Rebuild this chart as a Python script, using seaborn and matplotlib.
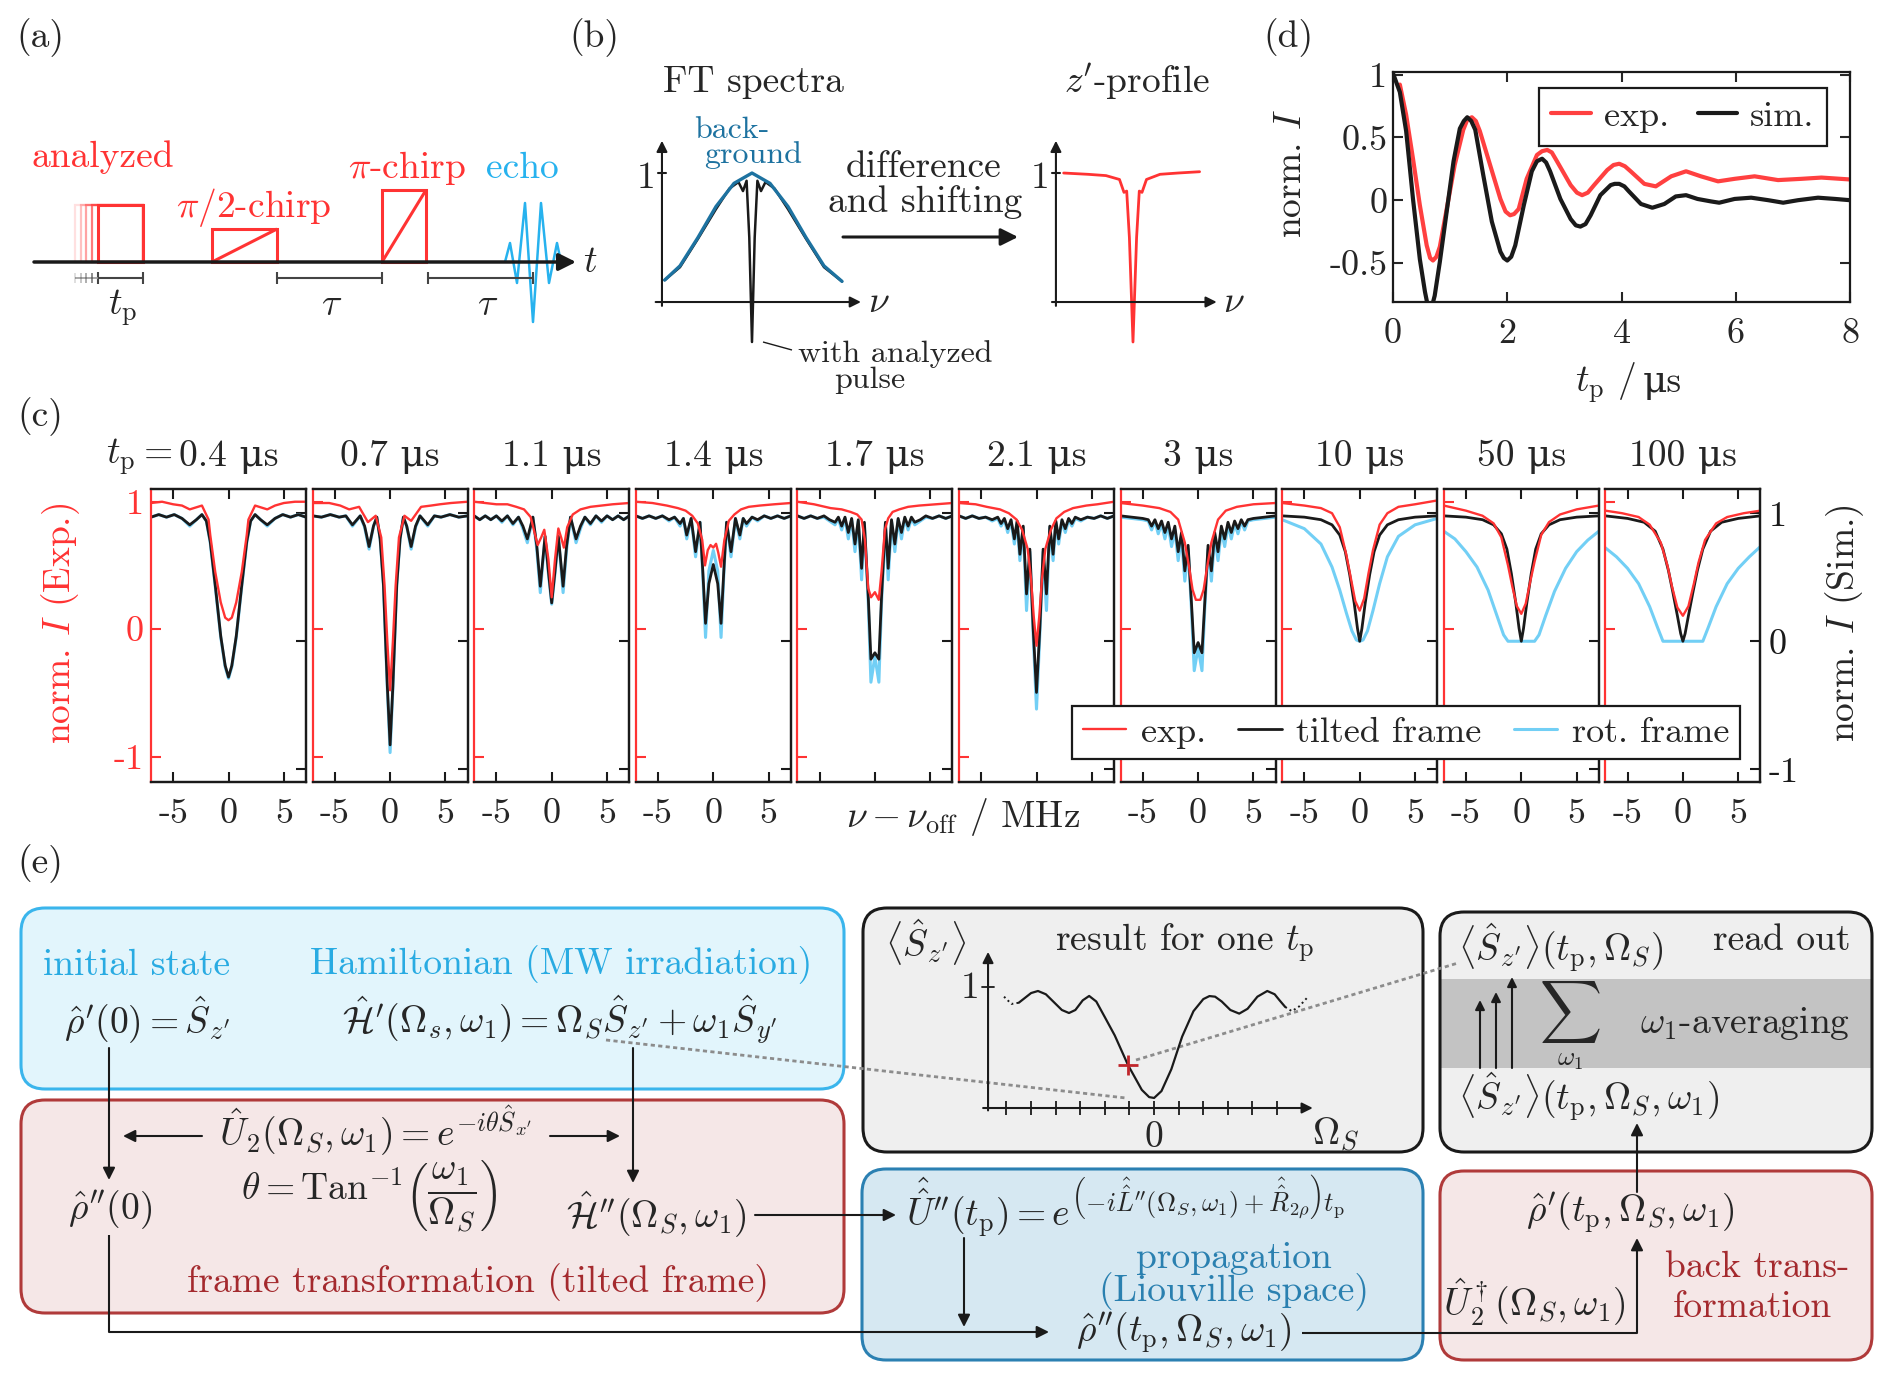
import matplotlib
matplotlib.use("Agg")
import matplotlib.pyplot as plt
import seaborn as sns
from matplotlib.patches import FancyBboxPatch, Rectangle

# ---------------- (d) pulse-length dependence of the echo ----------------
tp_exp = [0.12, 0.23, 0.35, 0.47, 0.59, 0.65, 0.70, 0.76, 0.82, 0.94, 1.08, 1.23, 1.30, 1.38, 1.45, 1.52, 1.70,
          1.88, 1.97, 2.05, 2.12, 2.20, 2.34, 2.52, 2.61, 2.70, 2.78, 2.87, 3.11, 3.22, 3.31, 3.41, 3.52, 3.75,
          3.86, 3.96, 4.06, 4.16, 4.40, 4.60, 4.87, 5.13, 5.39, 5.69, 5.98, 6.33, 6.74, 7.15, 7.50, 8.0]
I_exp = [0.92, 0.68, 0.33, -0.04, -0.36, -0.46, -0.48, -0.45, -0.37, -0.07, 0.28, 0.56, 0.64, 0.66, 0.63, 0.55, 0.28,
         0.01, -0.09, -0.12, -0.11, -0.07, 0.17, 0.36, 0.39, 0.40, 0.38, 0.31, 0.12, 0.06, 0.04, 0.06, 0.12, 0.24,
         0.28, 0.29, 0.27, 0.23, 0.13, 0.11, 0.19, 0.23, 0.19, 0.15, 0.17, 0.19, 0.16, 0.17, 0.18, 0.165]
tp_sim = [0, 0.12, 0.23, 0.35, 0.47, 0.56, 0.60, 0.64, 0.69, 0.73, 0.82, 0.94, 1.06, 1.17, 1.24, 1.30, 1.37, 1.44,
          1.58, 1.73, 1.88, 1.94, 2.0, 2.07, 2.14, 2.29, 2.43, 2.52, 2.61, 2.68, 2.75, 2.93, 3.11, 3.20, 3.28, 3.37,
          3.46, 3.63, 3.81, 3.88, 3.96, 4.05, 4.13, 4.34, 4.54, 4.75, 4.95, 5.13, 5.33, 5.57, 5.71, 5.98, 6.27,
          6.57, 6.83, 7.09, 7.44, 7.74, 8.0]
I_sim = [1.01, 0.86, 0.55, 0.01, -0.47, -0.73, -0.82, -0.86, -0.83, -0.76, -0.49, -0.09, 0.31, 0.57, 0.63, 0.66, 0.63, 0.56,
         0.20, -0.17, -0.41, -0.46, -0.48, -0.45, -0.36, -0.04, 0.23, 0.31, 0.33, 0.30, 0.23, 0.01, -0.15, -0.20, -0.21, -0.19,
         -0.12, 0.04, 0.12, 0.13, 0.13, 0.11, 0.07, -0.03, -0.06, -0.03, 0.03, 0.04, 0.01, -0.01, -0.02, 0.01, 0.02,
         0.0, -0.02, 0.0, 0.02, 0.01, 0.0]

# ---------------- (c) inversion profiles ----------------
tp_titles = ["0.4 μs", "0.7 μs", "1.1 μs", "1.4 μs", "1.7 μs", "2.1 μs", "3 μs", "10 μs", "50 μs", "100 μs"]

nu_exp_1 = [-7, -6, -5, -4.2, -3.5, -2.4, -1.8, -1.65, -1.2, -0.7, -0.3, 0, 0.3, 0.7, 1.2, 1.65, 1.8, 2.4, 3.5, 4.2, 5, 6, 7]
exp_1 = [0.99, 1.0, 0.98, 0.97, 0.94, 0.97, 0.86, 0.74, 0.45, 0.21, 0.09, 0.07, 0.09, 0.21, 0.45, 0.74, 0.86, 0.97, 0.94, 0.97, 0.99, 1.0, 1.0]
nu_sim_1 = [-7, -6.3, -5.6, -4.9, -4.2, -3.5, -2.9, -2.4, -2.0, -1.65, -1.2, -0.7, -0.3, 0, 0.3, 0.7, 1.2, 1.65, 2.0, 2.4, 2.9, 3.5, 4.2, 4.9, 5.6, 6.3, 7]
tilt_1 = [0.97, 0.99, 0.97, 0.99, 0.96, 0.91, 0.95, 0.99, 0.94, 0.78, 0.44, 0.04, -0.19, -0.28, -0.19, 0.04, 0.44, 0.78, 0.94, 0.99, 0.95, 0.91, 0.96, 0.99, 0.97, 0.99, 0.97]
rot_1 = [0.97, 0.99, 0.97, 0.99, 0.96, 0.90, 0.95, 0.99, 0.94, 0.77, 0.43, 0.03, -0.20, -0.29, -0.20, 0.03, 0.43, 0.77, 0.94, 0.99, 0.95, 0.90, 0.96, 0.99, 0.97, 0.99, 0.97]

nu_exp_2 = [-7, -5.5, -4.5, -3.7, -2.8, -2.0, -1.3, -0.8, -0.5, -0.25, 0, 0.25, 0.5, 0.8, 1.3, 1.9, 2.8, 3.7, 4.5, 5.5, 7]
exp_2 = [0.99, 0.99, 0.97, 0.94, 0.96, 0.84, 0.89, 0.72, 0.34, -0.1, -0.48, -0.1, 0.34, 0.72, 0.89, 0.85, 0.96, 0.97, 0.98, 0.99, 1.0]
nu_sim_2 = [-7, -6.2, -5.4, -4.6, -4.0, -3.4, -2.7, -2.3, -1.9, -1.5, -1.2, -0.9, -0.6, -0.25, 0, 0.25, 0.6, 0.9, 1.2, 1.5, 1.9, 2.3, 2.7, 3.4, 4.0, 4.6, 5.4, 6.2, 7]
tilt_2 = [0.98, 0.97, 0.99, 0.97, 0.98, 0.91, 0.98, 0.90, 0.74, 0.90, 0.97, 0.80, 0.44, -0.35, -0.81, -0.35, 0.44, 0.80, 0.97, 0.90, 0.74, 0.90, 0.98, 0.91, 0.98, 0.97, 0.99, 0.97, 0.98]
rot_2 = [0.98, 0.97, 0.99, 0.97, 0.98, 0.90, 0.98, 0.89, 0.72, 0.90, 0.97, 0.80, 0.44, -0.37, -0.87, -0.37, 0.44, 0.80, 0.97, 0.90, 0.72, 0.89, 0.98, 0.90, 0.98, 0.97, 0.99, 0.97, 0.98]

nu_exp_3 = [-7, -6, -5, -4, -3.2, -2.5, -1.9, -1.27, -0.95, -0.67, -0.3, 0, 0.3, 0.6, 0.85, 1.1, 1.4, 1.9, 2.6, 3.5, 4.5, 5.5, 7]
exp_3 = [1.0, 0.99, 0.98, 0.98, 0.96, 0.94, 0.88, 0.66, 0.72, 0.78, 0.55, 0.25, 0.55, 0.79, 0.72, 0.64, 0.80, 0.90, 0.94, 0.96, 0.97, 0.98, 0.99]
nu_sim_3 = [-7, -6.5, -6.0, -5.5, -5.0, -4.5, -4.0, -3.5, -3.0, -2.6, -2.2, -1.7, -1.35, -1.03, -0.6, -0.3, 0,
            0.3, 0.6, 1.03, 1.35, 1.7, 2.2, 2.6, 3.0, 3.5, 4.0, 4.5, 5.0, 5.5, 6.0, 6.5, 7]
tilt_3 = [0.98, 0.95, 0.98, 0.95, 0.98, 0.94, 0.98, 0.92, 0.97, 0.90, 0.80, 0.97, 0.75, 0.43, 0.82, 0.55, 0.30,
          0.55, 0.82, 0.43, 0.75, 0.97, 0.80, 0.90, 0.97, 0.92, 0.98, 0.94, 0.98, 0.95, 0.98, 0.95, 0.98]
rot_3 = [0.98, 0.95, 0.98, 0.95, 0.98, 0.93, 0.98, 0.91, 0.97, 0.88, 0.77, 0.97, 0.72, 0.38, 0.82, 0.53, 0.29,
         0.53, 0.82, 0.38, 0.72, 0.97, 0.77, 0.88, 0.97, 0.91, 0.98, 0.93, 0.98, 0.95, 0.98, 0.95, 0.98]

nu_exp_4 = [-7, -5.5, -4.2, -3.2, -2.5, -1.9, -1.4, -1.0, -0.75, -0.5, -0.25, 0, 0.25, 0.45, 0.7, 1.0, 1.4, 1.9, 2.5, 3.2, 4.2, 5.5, 7]
exp_4 = [1.0, 0.99, 0.97, 0.95, 0.93, 0.89, 0.83, 0.70, 0.50, 0.62, 0.66, 0.64, 0.67, 0.60, 0.49, 0.70, 0.85, 0.90, 0.94, 0.96, 0.97, 0.98, 0.99]
nu_sim_4 = [-7, -6.4, -5.8, -5.2, -4.6, -4.0, -3.5, -3.0, -2.7, -2.4, -2.0, -1.6, -1.2, -0.95, -0.7, -0.4, 0,
            0.4, 0.7, 0.95, 1.2, 1.6, 2.0, 2.4, 2.7, 3.0, 3.5, 4.0, 4.6, 5.2, 5.8, 6.4, 7]
tilt_4 = [0.98, 0.96, 0.98, 0.96, 0.98, 0.95, 0.97, 0.92, 0.96, 0.83, 0.96, 0.70, 0.93, 0.55, 0.14, 0.45, 0.60,
          0.45, 0.14, 0.55, 0.93, 0.70, 0.96, 0.83, 0.96, 0.92, 0.97, 0.95, 0.98, 0.96, 0.98, 0.96, 0.98]
rot_4 = [0.98, 0.96, 0.98, 0.96, 0.98, 0.94, 0.97, 0.90, 0.96, 0.80, 0.96, 0.66, 0.93, 0.52, 0.03, 0.55, 0.71,
         0.55, 0.03, 0.52, 0.93, 0.66, 0.96, 0.80, 0.96, 0.90, 0.97, 0.94, 0.98, 0.96, 0.98, 0.96, 0.98]

nu_exp_5 = [-7, -5.5, -4, -3, -2.2, -1.6, -1.2, -0.9, -0.6, -0.35, 0, 0.35, 0.6, 0.9, 1.2, 1.6, 2.2, 3, 4, 5.5, 7]
exp_5 = [1.0, 0.98, 0.95, 0.94, 0.92, 0.90, 0.86, 0.70, 0.32, 0.25, 0.29, 0.23, 0.45, 0.78, 0.87, 0.92, 0.94, 0.96, 0.97, 0.98, 0.99]
nu_sim_5 = [-7, -6.4, -5.8, -5.2, -4.6, -4.1, -3.6, -3.3, -3.0, -2.7, -2.4, -2.1, -1.8, -1.5, -1.2, -0.95, -0.6, -0.36, 0,
            0.36, 0.6, 0.95, 1.2, 1.5, 1.8, 2.1, 2.4, 2.7, 3.0, 3.3, 3.6, 4.1, 4.6, 5.2, 5.8, 6.4, 7]
tilt_5 = [0.98, 0.96, 0.98, 0.96, 0.98, 0.95, 0.93, 0.97, 0.90, 0.97, 0.85, 0.96, 0.76, 0.95, 0.57, 0.93, 0.35, -0.14, -0.09,
          -0.14, 0.35, 0.93, 0.57, 0.95, 0.76, 0.96, 0.85, 0.97, 0.90, 0.97, 0.93, 0.95, 0.98, 0.96, 0.98, 0.96, 0.98]
rot_5 = [0.98, 0.96, 0.98, 0.96, 0.97, 0.94, 0.91, 0.96, 0.87, 0.96, 0.80, 0.95, 0.70, 0.94, 0.48, 0.92, 0.30, -0.32, -0.12,
         -0.32, 0.30, 0.92, 0.48, 0.94, 0.70, 0.95, 0.80, 0.96, 0.87, 0.96, 0.91, 0.94, 0.97, 0.96, 0.98, 0.96, 0.98]

nu_exp_6 = [-7, -5.5, -4.5, -3.3, -2.5, -1.8, -1.3, -0.8, -0.5, -0.25, 0, 0.25, 0.5, 0.8, 1.3, 1.8, 2.5, 3.3, 4.5, 5.5, 7]
exp_6 = [0.99, 0.98, 0.96, 0.94, 0.91, 0.86, 0.78, 0.63, 0.40, 0.10, -0.13, 0.10, 0.40, 0.63, 0.78, 0.87, 0.92, 0.95, 0.97, 0.98, 1.0]
nu_sim_6 = [-7, -6.4, -5.8, -5.2, -4.6, -4.0, -3.5, -3.2, -2.9, -2.6, -2.3, -2.0, -1.75, -1.5, -1.2, -0.9, -0.6, -0.3, 0,
            0.3, 0.6, 0.9, 1.2, 1.5, 1.75, 2.0, 2.3, 2.6, 2.9, 3.2, 3.5, 4.0, 4.6, 5.2, 5.8, 6.4, 7]
tilt_6 = [0.98, 0.96, 0.98, 0.96, 0.97, 0.95, 0.97, 0.92, 0.96, 0.88, 0.95, 0.80, 0.94, 0.68, 0.90, 0.37, 0.72, 0.10, -0.40,
          0.10, 0.72, 0.37, 0.90, 0.68, 0.94, 0.80, 0.95, 0.88, 0.96, 0.92, 0.97, 0.95, 0.97, 0.96, 0.98, 0.96, 0.98]
rot_6 = [0.98, 0.96, 0.98, 0.96, 0.97, 0.94, 0.96, 0.90, 0.95, 0.85, 0.94, 0.76, 0.93, 0.63, 0.89, 0.24, 0.70, 0.05, -0.53,
         0.05, 0.70, 0.24, 0.89, 0.63, 0.93, 0.76, 0.94, 0.85, 0.95, 0.90, 0.96, 0.94, 0.97, 0.96, 0.98, 0.96, 0.98]

nu_exp_7 = [-7, -5, -3.5, -2.5, -1.8, -1.2, -0.8, -0.5, -0.2, 0, 0.2, 0.5, 0.8, 1.2, 1.8, 2.5, 3.5, 5, 7]
exp_7 = [0.99, 0.97, 0.95, 0.92, 0.86, 0.68, 0.48, 0.31, 0.23, 0.23, 0.23, 0.31, 0.48, 0.68, 0.86, 0.93, 0.96, 0.98, 0.99]
nu_sim_7 = [-7, -6, -5, -4.5, -4.2, -3.9, -3.6, -3.3, -3.0, -2.7, -2.4, -2.1, -1.8, -1.5, -1.2, -0.9, -0.6, -0.35, 0,
            0.35, 0.6, 0.9, 1.2, 1.5, 1.8, 2.1, 2.4, 2.7, 3.0, 3.3, 3.6, 3.9, 4.2, 4.5, 5, 6, 7]
tilt_7 = [0.98, 0.97, 0.96, 0.95, 0.90, 0.95, 0.88, 0.94, 0.85, 0.93, 0.80, 0.90, 0.70, 0.85, 0.55, 0.75, 0.30, -0.09, -0.01,
          -0.09, 0.30, 0.75, 0.55, 0.85, 0.70, 0.90, 0.80, 0.93, 0.85, 0.94, 0.88, 0.95, 0.90, 0.95, 0.96, 0.97, 0.98]
rot_7 = [0.97, 0.96, 0.95, 0.94, 0.87, 0.94, 0.84, 0.92, 0.80, 0.91, 0.74, 0.87, 0.63, 0.82, 0.47, 0.72, 0.25, -0.23, -0.05,
         -0.23, 0.25, 0.72, 0.47, 0.82, 0.63, 0.87, 0.74, 0.91, 0.80, 0.92, 0.84, 0.94, 0.87, 0.94, 0.95, 0.96, 0.97]

nu_exp_8 = [-7, -5, -3.5, -2.5, -1.8, -1.2, -0.8, -0.4, 0, 0.4, 0.8, 1.2, 1.8, 2.5, 3.5, 5, 7]
exp_8 = [0.99, 0.97, 0.95, 0.91, 0.80, 0.58, 0.40, 0.22, 0.145, 0.24, 0.44, 0.62, 0.82, 0.91, 0.96, 0.98, 1.01]
nu_sim_8 = [-7, -5, -3.5, -2.5, -1.8, -1.3, -0.9, -0.5, -0.2, 0, 0.2, 0.5, 0.9, 1.3, 1.8, 2.5, 3.5, 5, 7]
tilt_8 = [0.98, 0.97, 0.95, 0.91, 0.83, 0.70, 0.52, 0.30, 0.10, 0.0, 0.10, 0.30, 0.52, 0.70, 0.83, 0.91, 0.95, 0.97, 0.98]
nu_rot_8 = [-7, -5, -3.5, -2.5, -1.8, -1.2, -0.7, -0.3, 0, 0.3, 0.7, 1.2, 1.8, 2.5, 3.5, 5, 7]
rot_8 = [0.95, 0.88, 0.76, 0.58, 0.40, 0.22, 0.08, 0.01, 0.0, 0.01, 0.08, 0.24, 0.45, 0.66, 0.82, 0.91, 0.96]

nu_exp_9 = [-7, -5, -3.5, -2.5, -1.8, -1.2, -0.8, -0.4, 0, 0.4, 0.8, 1.2, 1.8, 2.5, 3.5, 5, 7]
exp_9 = [0.97, 0.93, 0.89, 0.83, 0.72, 0.50, 0.33, 0.18, 0.12, 0.20, 0.37, 0.53, 0.74, 0.84, 0.90, 0.94, 0.97]
nu_sim_9 = [-7, -5, -3.5, -2.5, -1.8, -1.3, -0.9, -0.5, -0.2, 0, 0.2, 0.5, 0.9, 1.3, 1.8, 2.5, 3.5, 5, 7]
tilt_9 = [0.98, 0.97, 0.95, 0.91, 0.84, 0.72, 0.53, 0.30, 0.10, 0.0, 0.10, 0.30, 0.53, 0.72, 0.84, 0.91, 0.95, 0.97, 0.98]
nu_rot_9 = [-7, -6, -5, -4, -3, -2.2, -1.6, -1.2, 0, 1.2, 1.6, 2.2, 3, 4, 5, 6, 7]
rot_9 = [0.86, 0.80, 0.70, 0.58, 0.40, 0.20, 0.05, 0.0, 0.0, 0.0, 0.05, 0.20, 0.39, 0.57, 0.70, 0.79, 0.86]

nu_exp_10 = [-7, -5.5, -4, -3, -2, -1.4, -1.0, -0.5, 0, 0.5, 1.0, 1.4, 2, 3, 4, 5.5, 7]
exp_10 = [0.93, 0.91, 0.88, 0.82, 0.68, 0.50, 0.34, 0.17, 0.105, 0.18, 0.36, 0.52, 0.70, 0.83, 0.88, 0.91, 0.93]
nu_sim_10 = [-7, -5, -3.5, -2.5, -1.8, -1.3, -0.9, -0.5, -0.2, 0, 0.2, 0.5, 0.9, 1.3, 1.8, 2.5, 3.5, 5, 7]
tilt_10 = [0.98, 0.96, 0.93, 0.86, 0.72, 0.55, 0.38, 0.20, 0.06, 0.0, 0.06, 0.20, 0.38, 0.55, 0.72, 0.86, 0.93, 0.96, 0.98]
nu_rot_10 = [-7, -6, -5, -4, -3, -2.3, -1.8, 0, 1.8, 2.3, 3, 4, 5, 6, 7]
rot_10 = [0.73, 0.66, 0.57, 0.45, 0.27, 0.11, 0.0, 0.0, 0.0, 0.11, 0.27, 0.45, 0.57, 0.66, 0.74]

# ---------------- (b) sketch spectra ----------------
nu_bg = [-0.97, -0.8, -0.6, -0.4, -0.2, 0, 0.2, 0.4, 0.6, 0.8, 1.0]
bg = [0.17, 0.28, 0.50, 0.74, 0.92, 1.0, 0.92, 0.74, 0.50, 0.28, 0.16]
nu_pulse = [-0.97, -0.8, -0.6, -0.4, -0.25, -0.15, -0.1, -0.06, -0.03, 0, 0.03, 0.06, 0.1, 0.15, 0.25, 0.4, 0.6, 0.8, 1.0]
pulse = [0.17, 0.27, 0.49, 0.72, 0.88, 0.93, 0.86, 0.94, 0.5, -0.31, 0.5, 0.94, 0.86, 0.93, 0.88, 0.72, 0.49, 0.27, 0.16]
nu_prof = [-0.77, -0.5, -0.3, -0.15, -0.1, -0.07, -0.04, 0, 0.04, 0.07, 0.1, 0.15, 0.3, 0.5, 0.74]
prof = [1.0, 0.99, 0.98, 0.95, 0.85, 0.86, 0.5, -0.31, 0.5, 0.86, 0.85, 0.95, 0.99, 1.0, 1.01]

# ---------------- (e) one-t_p sketch ----------------
om_solid = [-5.5, -5.25, -5.0, -4.72, -4.4, -4.1, -3.75, -3.46, -3.2, -2.9, -2.64, -2.35, -2.0, -1.6, -1.06, -0.5, -0.2,
            0, 0.3, 0.7, 1.14, 1.6, 2.0, 2.25, 2.48, 2.75, 3.1, 3.46, 3.8, 4.2, 4.6, 4.9, 5.1, 5.33]
sz_solid = [0.87, 0.91, 0.95, 0.967, 0.94, 0.88, 0.81, 0.785, 0.81, 0.89, 0.926, 0.88, 0.75, 0.60, 0.355, 0.15, 0.09,
            0.083, 0.14, 0.32, 0.59, 0.80, 0.90, 0.925, 0.92, 0.88, 0.81, 0.78, 0.82, 0.92, 0.967, 0.94, 0.89, 0.835]
om_dot_l = [-6.1, -5.8, -5.5]
sz_dot_l = [0.92, 0.86, 0.87]
om_dot_r = [5.33, 5.6, 5.9, 6.26]
sz_dot_r = [0.835, 0.80, 0.84, 0.92]
om_mark, sz_mark = -1.06, 0.355

sns.set_theme(style="ticks")
plt.rcParams["font.family"] = ["cmr10", "DejaVu Serif"]
plt.rcParams["mathtext.fontset"] = "cm"
plt.rcParams["axes.unicode_minus"] = False
plt.rcParams["axes.formatter.use_mathtext"] = True

RED = "#ff3333"
CYAN = "#72cff5"
ECHO = "#27b2ee"
TEAL = "#1d72a0"
FS = 27
TS = 26

W, H = 1892, 1381
fig = plt.figure(figsize=(W / 100, H / 100), dpi=100)


def px_axes(x0, y0, x1, y1):
    return fig.add_axes([x0 / W, 1 - y1 / H, (x1 - x0) / W, (y1 - y0) / H])


ov = fig.add_axes([0, 0, 1, 1])
ov.set_xlim(0, W)
ov.set_ylim(H, 0)
ov.axis("off")


def txt(x, y, s, size=FS, **kw):
    kw.setdefault("ha", "center")
    kw.setdefault("va", "center")
    ov.text(x, y, s, fontsize=size, zorder=6, **kw)


def arrow(x0, y0, x1, y1, lw=1.5, ms=18, color="k"):
    ov.annotate("", xy=(x1, y1), xytext=(x0, y0),
                arrowprops=dict(arrowstyle="-|>", lw=lw, color=color, mutation_scale=ms,
                                shrinkA=0, shrinkB=0), zorder=5)


def seg(xs, ys, **kw):
    kw.setdefault("color", "k")
    kw.setdefault("lw", 1.5)
    ov.plot(xs, ys, solid_capstyle="butt", zorder=5, **kw)


# panel letters
for lab, x, y in [("(a)", 40, 38), ("(b)", 594, 38), ("(d)", 1288, 38), ("(c)", 40, 417), ("(e)", 40, 864)]:
    txt(x, y, lab)

# ---------------- (a) pulse sequence ----------------
for xi, a in zip([75, 81, 86, 92], [0.15, 0.3, 0.45, 0.65]):
    ov.add_patch(Rectangle((xi, 205), 143 - xi, 57, fill=False, ec=RED, lw=1.6, alpha=a))
ov.add_patch(Rectangle((98, 205), 45, 57, fill=False, ec=RED, lw=2.2))
ov.add_patch(Rectangle((212, 229), 65, 33, fill=False, ec=RED, lw=2.2))
seg([212, 277], [262, 229], color=RED, lw=2.2)
ov.add_patch(Rectangle((382, 190), 44, 72, fill=False, ec=RED, lw=2.2))
seg([382, 426], [262, 190], color=RED, lw=2.2)
seg([505, 510, 517, 525, 533, 541, 549, 557, 561], [262, 243, 283, 203, 322, 203, 283, 243, 262], color=ECHO, lw=1.8)
arrow(34, 262, 576, 262, lw=2.5, ms=26)
for xa, xb in [(98, 143), (277, 382), (428, 533)]:
    seg([xa, xb], [278, 278], color="#444444", lw=1.5)
    seg([xa, xa], [272, 284], color="#444444", lw=1.5)
    seg([xb, xb], [272, 284], color="#444444", lw=1.5)
seg([75, 98], [278, 278], color="#999999", lw=1.2)
for xi, a in zip([75, 81, 86, 92], [0.2, 0.35, 0.5, 0.7]):
    seg([xi, xi], [273, 283], color="#444444", lw=1.2, alpha=a)
txt(103, 157, "analyzed", color=RED)
txt(254, 207, r"$\pi/2$-chirp", color=RED)
txt(407, 168, r"$\pi$-chirp", color=RED)
txt(522, 168, "echo", color=ECHO)
txt(123, 308, r"$t_\mathrm{p}$")
txt(332, 305, r"$\tau$")
txt(488, 305, r"$\tau$")
txt(590, 262, r"$t$")

# ---------------- (b) FT spectra sketch ----------------
txt(753, 82, "FT spectra")
txt(1137, 82, r"$z'$-profile")
txt(732, 130, "back-", size=23, color=TEAL)
txt(753, 155, "ground", size=23, color=TEAL)
txt(924, 167, "difference")
txt(925, 202, "and shifting")
arrow(843, 237, 1018, 237, lw=2.2, ms=26)
txt(895, 354, "with analyzed", size=23)
txt(870, 380, "pulse", size=23)
seg([763, 792], [342, 350], lw=1)

ab1 = px_axes(640, 120, 880, 350)
ab1.set_xlim(-1.244, 1.422)
ab1.set_ylim(-0.372, 1.411)
ab1.axis("off")
sns.lineplot(x=nu_pulse, y=pulse, ax=ab1, color="k", lw=1.8, sort=False, estimator=None)
sns.lineplot(x=nu_bg, y=bg, ax=ab1, color=TEAL, lw=2.4, sort=False, estimator=None)
ab1.annotate("", xy=(1.21, 0), xytext=(-1.07, 0),
             arrowprops=dict(arrowstyle="-|>", lw=1.5, color="k", mutation_scale=16, shrinkA=0, shrinkB=0))
ab1.annotate("", xy=(-1.0, 1.25), xytext=(-1.0, -0.03),
             arrowprops=dict(arrowstyle="-|>", lw=1.5, color="k", mutation_scale=16, shrinkA=0, shrinkB=0))
ab1.plot([-1.04, -0.96], [1, 1], color="k", lw=1.5)
ab1.text(-1.07, 0.96, "1", fontsize=FS, ha="right", va="center")
ab1.text(1.41, 0.0, r"$\nu$", fontsize=FS, ha="center", va="center")

ab2 = px_axes(1040, 120, 1260, 350)
ab2.set_xlim(-1.033, 1.411)
ab2.set_ylim(-0.372, 1.411)
ab2.axis("off")
sns.lineplot(x=nu_prof, y=prof, ax=ab2, color=RED, lw=2, sort=False, estimator=None)
ab2.annotate("", xy=(0.93, 0), xytext=(-0.9, 0),
             arrowprops=dict(arrowstyle="-|>", lw=1.5, color="k", mutation_scale=16, shrinkA=0, shrinkB=0))
ab2.annotate("", xy=(-0.856, 1.25), xytext=(-0.856, -0.03),
             arrowprops=dict(arrowstyle="-|>", lw=1.5, color="k", mutation_scale=16, shrinkA=0, shrinkB=0))
ab2.plot([-0.9, -0.81], [1, 1], color="k", lw=1.5)
ab2.text(-0.93, 0.96, "1", fontsize=FS, ha="right", va="center")
ab2.text(1.12, 0.0, r"$\nu$", fontsize=FS, ha="center", va="center")

# ---------------- (d) echo vs pulse length ----------------
axd = px_axes(1393, 72, 1850, 302)
sns.lineplot(x=tp_exp, y=I_exp, ax=axd, color="#ff4040", lw=3, sort=False, estimator=None, label="exp.")
sns.lineplot(x=tp_sim, y=I_sim, ax=axd, color="k", lw=3, sort=False, estimator=None, label="sim.")
axd.set_xlim(0, 8)
axd.set_ylim(-0.81, 1.02)
axd.set_xticks([0, 2, 4, 6, 8])
axd.set_xticklabels(["0", "2", "4", "6", "8"])
axd.set_yticks([-0.5, 0, 0.5, 1])
axd.set_yticklabels(["-0.5", "0", "0.5", "1"])
axd.tick_params(axis="both", direction="in", top=True, right=True, length=7, width=1.5, labelsize=TS)
axd.tick_params(axis="x", pad=12)
axd.tick_params(axis="y", pad=4)
for sp in axd.spines.values():
    sp.set_linewidth(1.6)
    sp.set_color("k")
axd.set_xlabel("")
axd.set_ylabel("")
axd.legend(loc="upper right", bbox_to_anchor=(0.95, 0.93), borderaxespad=0, ncol=2, fontsize=26,
           frameon=True, fancybox=False, edgecolor="k", framealpha=1, handlelength=1.1,
           handletextpad=0.35, columnspacing=0.8, borderpad=0.35).get_frame().set_linewidth(1.6)
txt(1637, 392, r"$t_\mathrm{p}$ /", ha="right", va="baseline")
txt(1643, 392, "μs", ha="left", va="baseline")
txt(1291, 173, r"norm. $I$", rotation=90)

# ---------------- (c) profiles for different pulse lengths ----------------
profiles = [
    (nu_exp_1, exp_1, nu_sim_1, tilt_1, nu_sim_1, rot_1),
    (nu_exp_2, exp_2, nu_sim_2, tilt_2, nu_sim_2, rot_2),
    (nu_exp_3, exp_3, nu_sim_3, tilt_3, nu_sim_3, rot_3),
    (nu_exp_4, exp_4, nu_sim_4, tilt_4, nu_sim_4, rot_4),
    (nu_exp_5, exp_5, nu_sim_5, tilt_5, nu_sim_5, rot_5),
    (nu_exp_6, exp_6, nu_sim_6, tilt_6, nu_sim_6, rot_6),
    (nu_exp_7, exp_7, nu_sim_7, tilt_7, nu_sim_7, rot_7),
    (nu_exp_8, exp_8, nu_sim_8, tilt_8, nu_rot_8, rot_8),
    (nu_exp_9, exp_9, nu_sim_9, tilt_9, nu_rot_9, rot_9),
    (nu_exp_10, exp_10, nu_sim_10, tilt_10, nu_rot_10, rot_10),
]

left0, pitch, pw = 151, 161.6, 155
handles = None
for k, (nx, ex, ns, ti, nr, ro) in enumerate(profiles):
    x0 = left0 + k * pitch
    ax = px_axes(x0, 489, x0 + pw, 782)
    tw = ax.twinx()
    ax.set_zorder(tw.get_zorder() + 1)
    ax.patch.set_visible(False)
    sns.lineplot(x=nr, y=ro, ax=tw, color=CYAN, lw=2.2, sort=False, estimator=None)
    sns.lineplot(x=ns, y=ti, ax=tw, color="k", lw=2.0, sort=False, estimator=None)
    sns.lineplot(x=nx, y=ex, ax=ax, color=RED, lw=1.7, sort=False, estimator=None)
    if handles is None:
        handles = [ax.get_lines()[-1], tw.get_lines()[-1], tw.get_lines()[-2]]
    ax.set_xlim(-7, 7)
    ax.set_ylim(-1.2, 1.1)
    tw.set_ylim(-1.1, 1.19)
    ax.set_xticks([-5, 0, 5])
    if k in (4, 5):
        ax.set_xticklabels([])
    else:
        ax.set_xticklabels(["-5", "0", "5"])
    ax.tick_params(axis="x", direction="in", top=True, bottom=True, length=7, width=1.5,
                   labelsize=TS, pad=12, color="k")
    ax.set_yticks([-1, 0, 1])
    ax.set_yticklabels(["-1", "0", "1"] if k == 0 else [])
    ax.tick_params(axis="y", direction="in", left=True, right=False, length=7, width=1.5,
                   colors=RED, labelsize=TS, pad=5)
    tw.set_yticks([-1, 0, 1])
    tw.set_yticklabels(["-1", "0", "1"] if k == 9 else [])
    tw.tick_params(axis="y", direction="in", left=False, right=True, length=7, width=1.5,
                   colors="k", labelsize=TS, pad=6)
    for a in (ax, tw):
        a.set_xlabel("")
        a.set_ylabel("")
        for sp in a.spines.values():
            sp.set_linewidth(1.6)
            sp.set_color("k")
    ax.spines["left"].set_color(RED)
    tw.spines["left"].set_visible(False)
    txt(x0 + pw / 2, 457, tp_titles[k])

txt(172, 457, r"$t_\mathrm{p}=$", ha="right")
txt(963, 817, r"$\nu-\nu_\mathrm{off}$ / MHz")
txt(61, 623, r"norm. $I$ (Exp.)", rotation=90, color=RED)
txt(1845, 623, r"norm. $I$ (Sim.)", rotation=90)
leg = fig.legend(handles=handles, labels=["exp.", "tilted frame", "rot. frame"], loc="center",
                 bbox_to_anchor=(1406 / W, 1 - 732.5 / H), ncol=3, fontsize=26, frameon=True,
                 fancybox=False, edgecolor="k", framealpha=1, handlelength=1.2, handletextpad=0.4,
                 columnspacing=0.9, borderpad=0.3)
leg.get_frame().set_linewidth(1.6)

# ---------------- (e) flow chart ----------------
def box(x0, y0, x1, y1, fc, ec, lw=2.2, fill=True):
    ov.add_patch(FancyBboxPatch((x0, y0), x1 - x0, y1 - y0, boxstyle="round,pad=0,rounding_size=24",
                                fc=fc if fill else "none", ec=ec, lw=lw, zorder=2))


box(21, 908, 844, 1089, "#e2f5fc", "#3ab5ec")
box(21, 1100, 844, 1313, "#f5e7e7", "#b03a3a")
box(863, 908, 1423, 1152, "#efefef", "k")
box(1440, 912, 1872, 1152, "#efefef", "none", lw=0)
ov.add_patch(Rectangle((1440, 979), 432, 89, fc="#c3c3c3", ec="none", zorder=2))
box(1440, 912, 1872, 1152, "none", "k", fill=False)
box(862, 1169, 1423, 1360, "#d6e8f2", "#2b80b2")
box(1440, 1171, 1872, 1360, "#f5e7e7", "#b03a3a")

CT = "#29abe2"
DR = "#a42a2e"
PT = "#2a80b0"
txt(137, 965, "initial state", color=CT)
txt(561, 965, "Hamiltonian (MW irradiation)", color=CT)
txt(147, 1020, r"$\hat{\rho}'(0)=\hat{S}_{z'}$")
txt(560, 1020, r"$\hat{\mathcal{H}}'(\Omega_s,\omega_1)=\Omega_S\hat{S}_{z'}+\omega_1\hat{S}_{y'}$")
txt(376, 1131, r"$\hat{U}_2(\Omega_S,\omega_1)=e^{-i\theta\hat{S}_{x'}}$")
txt(369, 1196, r"$\theta=\mathrm{Tan}^{-1}\left(\dfrac{\omega_1}{\Omega_S}\right)$")
txt(110, 1210, r"$\hat{\rho}''(0)$")
txt(656, 1215, r"$\hat{\mathcal{H}}''(\Omega_S,\omega_1)$")
txt(478, 1283, "frame transformation (tilted frame)", color=DR)
arrow(109, 1048, 109, 1180)
arrow(633, 1048, 633, 1183)
arrow(202, 1136, 123, 1136)
arrow(550, 1136, 620, 1136)
arrow(755, 1215, 896, 1215)
seg([109, 109, 1000], [1235, 1332, 1332])
arrow(1000, 1332, 1049, 1332)

txt(926, 943, r"$\langle\hat{S}_{z'}\rangle$")
txt(1185, 943, r"result for one $t_\mathrm{p}$")
txt(1561, 948, r"$\langle\hat{S}_{z'}\rangle(t_\mathrm{p},\Omega_S)$")
txt(1782, 940, "read out")
txt(1570, 1012, r"$\sum$", size=31)
txt(1570, 1060, r"$\omega_1$", size=19)
txt(1745, 1023, r"$\omega_1$-averaging")
txt(1589, 1097, r"$\langle\hat{S}_{z'}\rangle(t_\mathrm{p},\Omega_S,\omega_1)$")
for xa, ya in [(1480, 1000), (1496, 992), (1512, 977)]:
    arrow(xa, 1068, xa, ya, ms=14)

txt(906, 1207, r"$\hat{\hat{U}}''(t_\mathrm{p})=e^{\left(-i\hat{\hat{L}}''(\Omega_S,\omega_1)+\hat{\hat{R}}_{2\rho}\right)t_\mathrm{p}}$",
    ha="left")
txt(1234, 1258, "propagation", color=PT)
txt(1234, 1292, "(Liouville space)", color=PT)
arrow(964, 1238, 964, 1327)
txt(1184, 1333, r"$\hat{\rho}''(t_\mathrm{p},\Omega_S,\omega_1)$")
seg([1302, 1637], [1333, 1333])
arrow(1637, 1333, 1637, 1238)
txt(1630, 1213, r"$\hat{\rho}'(t_\mathrm{p},\Omega_S,\omega_1)$")
arrow(1637, 1192, 1637, 1123)
txt(1534, 1302, r"$\hat{U}_2^\dagger(\Omega_S,\omega_1)$")
txt(1757, 1267, "back trans-", color=DR)
txt(1752, 1307, "formation", color=DR)

seg([606, 1126], [1040, 1098], color="#8c8c8c", lw=2, ls=(0, (1.5, 1.2)))
seg([1136, 1458], [1060, 963], color="#8c8c8c", lw=2, ls=(0, (1.5, 1.2)))

ae = px_axes(960, 930, 1360, 1150)
ae.set_xlim(-7.89, 8.37)
ae.set_ylim(-0.347, 1.471)
ae.axis("off")
sns.lineplot(x=om_solid, y=sz_solid, ax=ae, color="k", lw=1.6, sort=False, estimator=None)
sns.lineplot(x=om_dot_l, y=sz_dot_l, ax=ae, color="k", lw=1.4, ls=":", sort=False, estimator=None)
sns.lineplot(x=om_dot_r, y=sz_dot_r, ax=ae, color="k", lw=1.4, ls=":", sort=False, estimator=None)
ae.plot([om_mark], [sz_mark], marker="+", color="#c0262b", ms=14, mew=2)
ae.annotate("", xy=(6.45, 0), xytext=(-6.95, 0),
            arrowprops=dict(arrowstyle="-|>", lw=1.5, color="k", mutation_scale=16, shrinkA=0, shrinkB=0))
ae.annotate("", xy=(-6.75, 1.29), xytext=(-6.75, -0.02),
            arrowprops=dict(arrowstyle="-|>", lw=1.5, color="k", mutation_scale=16, shrinkA=0, shrinkB=0))
ae.vlines(range(-6, 6), -0.06, 0.06, color="k", lw=1.3)
ae.plot([-7.0, -6.5], [1, 1], color="k", lw=1.3)
ae.text(-7.5, 0.99, "1", fontsize=FS, ha="center", va="center")
ae.text(0, -0.24, "0", fontsize=FS, ha="center", va="center")
ae.text(7.4, -0.22, r"$\Omega_S$", fontsize=FS, ha="center", va="center")

fig.savefig("out.png", dpi=100)
